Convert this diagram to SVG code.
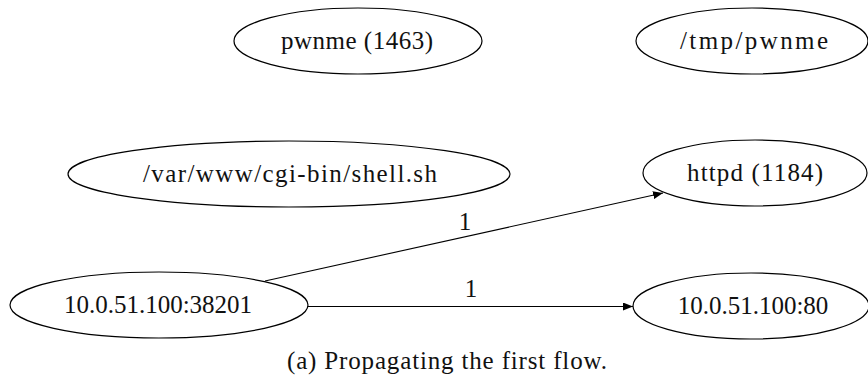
<svg xmlns="http://www.w3.org/2000/svg" width="868" height="381" viewBox="0 0 868 381">
<style>
.n ellipse{fill:#fff;stroke:#000;stroke-width:1.2}
text{font-family:'Liberation Serif',serif;font-size:25px;fill:#111;text-anchor:middle}
.e{stroke:#000;stroke-width:1.1;fill:none;marker-end:url(#ah)}
</style>
<defs>
<marker id="ah" viewBox="0 0 10 8" refX="10" refY="4" markerWidth="10" markerHeight="8" markerUnits="userSpaceOnUse" orient="auto">
<path d="M0,0 L10,4 L0,8 z" fill="#000"/>
</marker>
</defs>
<g id="edges">
<line class="e" x1="265" y1="281" x2="663" y2="193"/>
<text x="465" y="230">1</text>
<line class="e" x1="308" y1="306.5" x2="633" y2="306.5"/>
<text x="471" y="297">1</text>
</g>
<g id="n_pwnme" class="n"><ellipse cx="358" cy="41" rx="124" ry="33"/><text x="357" y="49" textLength="152" lengthAdjust="spacing">pwnme (1463)</text></g>
<g id="n_tmp" class="n"><ellipse cx="752" cy="41" rx="116" ry="33"/><text x="754" y="49" textLength="148" lengthAdjust="spacing">/tmp/pwnme</text></g>
<g id="n_shell" class="n"><ellipse cx="289" cy="174" rx="221" ry="33"/><text x="290" y="182" textLength="294" lengthAdjust="spacing">/var/www/cgi-bin/shell.sh</text></g>
<g id="n_httpd" class="n"><ellipse cx="755" cy="173" rx="112" ry="33"/><text x="755" y="181" textLength="136" lengthAdjust="spacing">httpd (1184)</text></g>
<g id="n_src" class="n"><ellipse cx="159" cy="305" rx="149" ry="33"/><text x="158" y="313">10.0.51.100:38201</text></g>
<g id="n_dst" class="n"><ellipse cx="751" cy="306" rx="118" ry="33"/><text x="753" y="314">10.0.51.100:80</text></g>
<text x="447" y="369" textLength="320" lengthAdjust="spacing">(a) Propagating the first flow.</text>
</svg>
